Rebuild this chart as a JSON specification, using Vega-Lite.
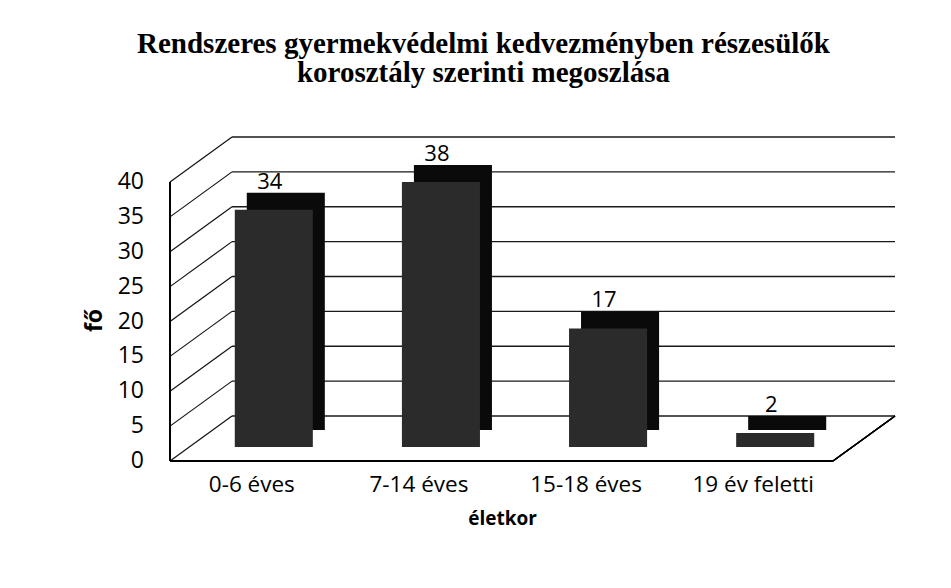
{
  "$schema": "https://vega.github.io/schema/vega-lite/v6.json",
  "width": 663,
  "height": 279,
  "autosize": {"type": "none"},
  "padding": {"left": 232, "top": 137, "right": 56, "bottom": 172},
  "background": "white",
  "title": {
    "text": ["Rendszeres gyermekvédelmi kedvezményben részesülők", "korosztály szerinti megoszlása"],
    "font": "Liberation Serif",
    "fontSize": 29,
    "fontWeight": "bold",
    "color": "#000000",
    "anchor": "middle",
    "dx": -80,
    "offset": 48,
    "lineHeight": 29
  },
  "datasets": {
    "ticks": [{"v": 0}, {"v": 5}, {"v": 10}, {"v": 15}, {"v": 20}, {"v": 25}, {"v": 30}, {"v": 35}, {"v": 40}],
    "bars": [
      {"korosztaly": "0-6 éves", "fo": 34},
      {"korosztaly": "7-14 éves", "fo": 38},
      {"korosztaly": "15-18 éves", "fo": 17},
      {"korosztaly": "19 év feletti", "fo": 2}
    ]
  },
  "data": {"name": "bars"},
  "layer": [
    {
      "data": {"name": "ticks"},
      "mark": {"type": "rule", "color": "#1a1a1a", "strokeWidth": 1.3},
      "encoding": {
        "y": {
          "field": "v",
          "type": "quantitative",
          "scale": {"domain": [0, 40], "nice": false},
          "axis": {
            "title": "fő",
            "labels": false,
            "grid": false,
            "ticks": false,
            "domain": false,
            "titleFont": "Open Sans",
            "titleFontSize": 23,
            "titleFontWeight": "bold",
            "titleColor": "#000000",
            "titleX": -138,
            "titleY": 183,
            "titleBaseline": "middle",
            "titleAlign": "center"
          }
        }
      }
    },
    {
      "data": {"name": "ticks"},
      "mark": {"type": "rule", "color": "#111111", "strokeWidth": 1.2, "xOffset": -62, "yOffset": 45},
      "encoding": {
        "x": {"value": 0},
        "x2": {"value": 0},
        "y": {"field": "v", "type": "quantitative"},
        "y2": {"field": "v"}
      }
    },
    {
      "data": {"name": "ticks"},
      "mark": {"type": "text", "font": "Open Sans", "fontSize": 23, "color": "#000000", "align": "right", "baseline": "middle", "dx": -88, "dy": 45},
      "encoding": {
        "x": {"value": 0},
        "y": {"field": "v", "type": "quantitative"},
        "text": {"field": "v", "type": "quantitative"}
      }
    },
    {
      "mark": {"type": "rule", "color": "#000000", "strokeWidth": 1.5, "xOffset": -62, "yOffset": 45, "y2Offset": 45},
      "encoding": {"x": {"value": 0}, "y": {"datum": 0}, "y2": {"datum": 40}}
    },
    {
      "mark": {"type": "rule", "color": "#000000", "strokeWidth": 1.5, "xOffset": -62, "x2Offset": -62, "yOffset": 45},
      "encoding": {"x": {"value": 0}, "x2": {"value": 663}, "y": {"datum": 0}}
    },
    {
      "mark": {"type": "rule", "color": "#000000", "strokeWidth": 1.3, "xOffset": -62, "yOffset": 45},
      "encoding": {"x": {"value": 663}, "x2": {"value": 663}, "y": {"datum": 0}, "y2": {"datum": 0}}
    },
    {
      "mark": {"type": "bar", "color": "#0a0a0a", "xOffset": -27, "yOffset": 14},
      "encoding": {
        "x": {"field": "korosztaly", "type": "nominal", "sort": null},
        "y": {"field": "fo", "type": "quantitative"}
      }
    },
    {
      "mark": {"type": "bar", "color": "#2b2b2b", "xOffset": -39, "yOffset": 31},
      "encoding": {
        "x": {
          "field": "korosztaly",
          "type": "nominal",
          "sort": null,
          "scale": {"paddingInner": 0.533, "paddingOuter": 0.25},
          "axis": {
            "title": "életkor",
            "orient": "bottom",
            "offset": 45,
            "labelAngle": 0,
            "labelAlign": "center",
            "labelOffset": -61,
            "labelFont": "Open Sans",
            "labelFontSize": 22.5,
            "labelColor": "#000000",
            "labelPadding": 23,
            "labelOverlap": false,
            "ticks": false,
            "domain": false,
            "titleFont": "Open Sans",
            "titleFontSize": 19,
            "titleFontWeight": "bold",
            "titleColor": "#000000",
            "titleX": 270,
            "titleY": 57,
            "titleBaseline": "middle"
          }
        },
        "y": {"field": "fo", "type": "quantitative"}
      }
    },
    {
      "mark": {"type": "text", "font": "Open Sans", "fontSize": 22, "color": "#000000", "baseline": "middle", "dx": -43, "dy": 3},
      "encoding": {
        "x": {"field": "korosztaly", "type": "nominal", "sort": null},
        "y": {"field": "fo", "type": "quantitative"},
        "text": {"field": "fo", "type": "quantitative"}
      }
    }
  ],
  "config": {
    "view": {"stroke": null},
    "axisY": {"grid": false, "labels": false, "ticks": false, "domain": false}
  }
}
